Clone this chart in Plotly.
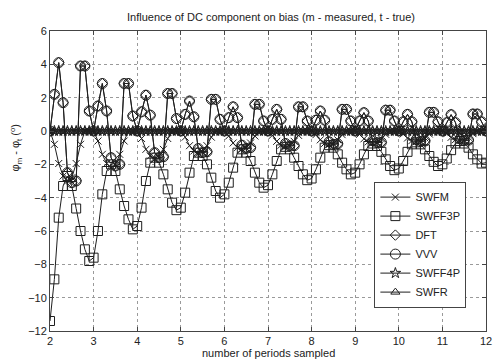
import plotly.graph_objects as go

# Number of periods sampled: 2.0 ... 12.0 in steps of 0.1
periods_sampled = [round(2 + 0.1 * i, 1) for i in range(101)]

# Phase bias (degrees) for each estimator, one row per whole period (n.0 ... n.9), last value at 12.0
swfm = [
    0, -0.8, -1.95, -2.7, -3.0, -2.8, -1.95, -0.8, 0, 0,
    0, -0.6, -1.4, -1.95, -2.2, -2.05, -1.4, -0.6, 0, 0,
    0, -0.45, -1.1, -1.5, -1.7, -1.6, -1.1, -0.45, 0, 0,
    0, -0.37, -0.88, -1.2, -1.35, -1.25, -0.88, -0.37, 0, 0,
    0, -0.3, -0.72, -1.0, -1.1, -1.02, -0.72, -0.3, 0, 0,
    0, -0.26, -0.62, -0.85, -0.95, -0.88, -0.62, -0.26, 0, 0,
    0, -0.22, -0.53, -0.74, -0.82, -0.76, -0.53, -0.22, 0, 0,
    0, -0.2, -0.47, -0.65, -0.72, -0.67, -0.47, -0.2, 0, 0,
    0, -0.18, -0.42, -0.58, -0.65, -0.6, -0.42, -0.18, 0, 0,
    0, -0.16, -0.38, -0.52, -0.58, -0.54, -0.38, -0.16, 0, 0,
    0,
]

swff3p = [
    -11.4, -8.9, -5.2, -3.3, -2.7, -3.3, -4.65, -6.0, -7.1, -7.8,
    -7.6, -6.0, -3.8, -2.4, -2.0, -2.4, -3.5, -4.5, -5.3, -5.9,
    -5.7, -4.6, -3.0, -1.9, -1.6, -1.9, -2.6, -3.5, -4.3, -4.75,
    -4.6, -3.7, -2.5, -1.5, -1.3, -1.5, -2.0, -2.8, -3.6, -4.0,
    -3.8, -3.1, -2.2, -1.3, -1.1, -1.3, -1.8, -2.5, -3.1, -3.4,
    -3.25, -2.6, -1.8, -1.1, -0.95, -1.1, -1.6, -2.1, -2.6, -2.95,
    -2.85, -2.3, -1.6, -1.0, -0.85, -1.0, -1.4, -1.9, -2.3, -2.6,
    -2.5, -2.0, -1.4, -0.9, -0.75, -0.9, -1.25, -1.7, -2.1, -2.35,
    -2.25, -1.8, -1.25, -0.8, -0.68, -0.8, -1.1, -1.5, -1.85, -2.1,
    -2.0, -1.65, -1.15, -0.75, -0.6, -0.75, -1.0, -1.4, -1.7, -1.95,
    -1.9,
]

dft = [
    0, 2.2, 4.1, 1.7, -2.5, -3.1, -3.0, 3.9, 3.9, 1.2,
    0, 1.5, 2.85, 1.2, -1.6, -2.1, -2.0, 2.85, 2.85, 0.9,
    0, 1.15, 2.15, 0.95, -1.3, -1.6, -1.55, 2.25, 2.25, 0.75,
    0, 1.0, 1.8, 0.85, -1.05, -1.3, -1.25, 1.9, 1.9, 0.7,
    0, 0.8, 1.45, 0.8, -0.85, -1.05, -1.0, 1.6, 1.6, 0.6,
    0, 0.7, 1.3, 0.7, -0.75, -0.9, -0.88, 1.45, 1.45, 0.6,
    0, 0.65, 1.2, 0.65, -0.65, -0.8, -0.77, 1.3, 1.3, 0.6,
    0, 0.6, 1.1, 0.6, -0.58, -0.7, -0.68, 1.25, 1.25, 0.6,
    0, 0.55, 1.0, 0.55, -0.52, -0.63, -0.6, 1.12, 1.12, 0.55,
    0, 0.5, 0.98, 0.5, -0.47, -0.57, -0.55, 1.02, 1.02, 0.55,
    0,
]

# VVV coincides with the DFT estimate at every sample
vvv = list(dft)

swff4p = [0] * 101
swfr = [0] * 101

series = [
    ("SWFM", swfm, "x-thin-open", 7),
    ("SWFF3P", swff3p, "square-open", 9),
    ("DFT", dft, "diamond-open", 8),
    ("VVV", vvv, "circle-open", 10),
    ("SWFF4P", swff4p, "star-open", 8),
    ("SWFR", swfr, "triangle-up-open", 8),
]

INK = "#1e1e1e"
FONT = "Liberation Sans"

fig = go.Figure()
for name, values, symbol, size in series:
    fig.add_trace(go.Scatter(
        x=periods_sampled, y=values, name=name,
        mode="lines+markers",
        line=dict(color=INK, width=1),
        marker=dict(symbol=symbol, size=size, color=INK,
                    line=dict(color=INK, width=1)),
    ))

axis_style = dict(
    showline=True, linecolor="#444", linewidth=1, mirror="allticks",
    ticks="inside", ticklen=4, tickcolor="#444",
    showgrid=True, gridcolor="#9a9a9a", griddash="dot", gridwidth=1,
    zeroline=False,
    tickfont=dict(family=FONT, size=11, color="#222"),
)

fig.update_xaxes(range=[2, 12], tickmode="array",
                 tickvals=list(range(2, 13)), **axis_style)
fig.update_yaxes(range=[-12, 6], tickmode="array",
                 tickvals=list(range(-12, 7, 2)), **axis_style)

fig.update_layout(
    width=501, height=361,
    margin=dict(l=50, r=9, t=31, b=30),
    paper_bgcolor="white", plot_bgcolor="white",
    font=dict(family=FONT, size=11, color="#222"),
    title=dict(text="Influence of DC component on bias (m - measured, t - true)",
               x=0.541, xanchor="center", y=1 - 17 / 361, yanchor="middle",
               font=dict(family=FONT, size=11, color="#222")),
    showlegend=True,
    legend=dict(x=0.744, y=0.498, xanchor="left", yanchor="top",
                bgcolor="white", bordercolor="#444", borderwidth=1,
                font=dict(family=FONT, size=11, color="#222"),
                tracegroupgap=0),
    annotations=[
        dict(text="number of periods sampled", xref="paper", yref="paper",
             x=0.5, y=-0.072, xanchor="center", yanchor="middle",
             showarrow=False, font=dict(family=FONT, size=11, color="#222")),
        dict(text="φ<sub>m</sub> - φ<sub>t</sub> (<sup>o</sup>)",
             xref="paper", yref="paper", x=-0.078, y=0.612,
             xanchor="center", yanchor="middle", textangle=-90,
             showarrow=False, font=dict(family=FONT, size=11, color="#222")),
    ],
)

fig.write_html("out.html")
